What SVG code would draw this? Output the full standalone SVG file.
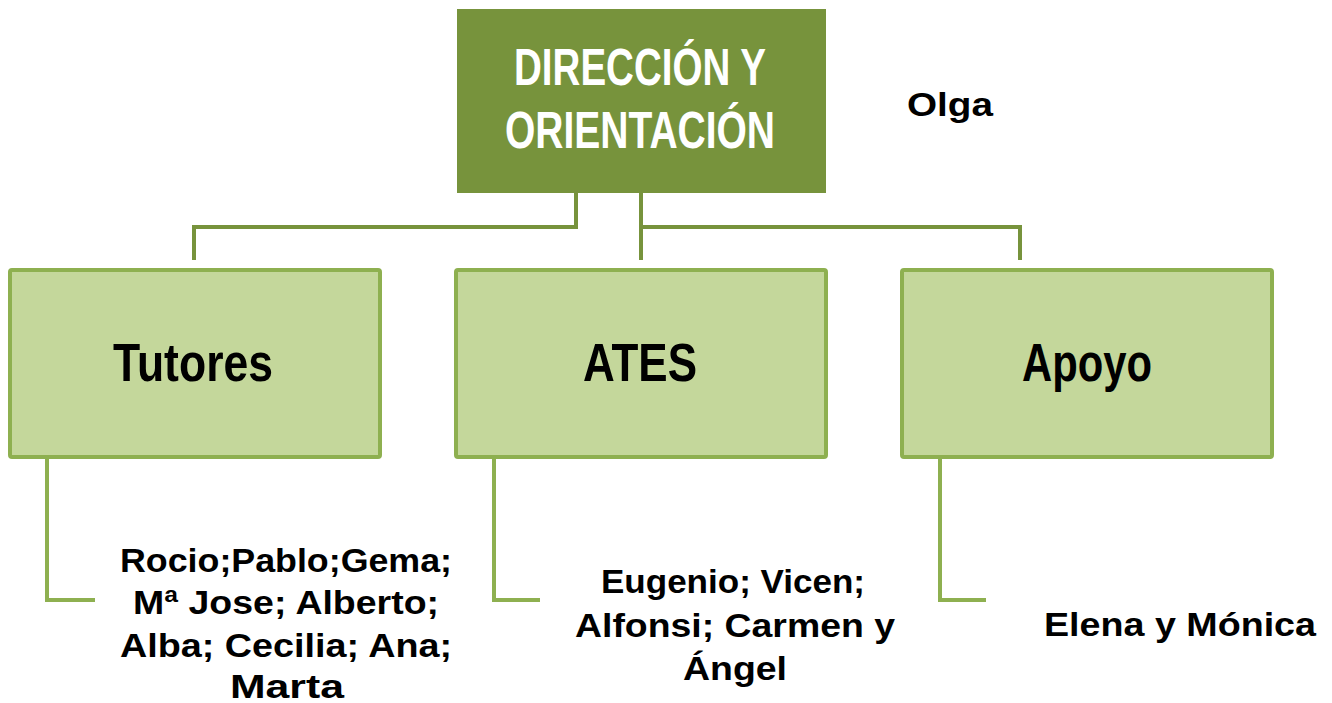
<svg xmlns="http://www.w3.org/2000/svg" width="1332" height="703" viewBox="0 0 1332 703">
<style>
.top{fill:#77933c}
.box{fill:#c4d79b;stroke:#8eb050;stroke-width:4}
.conn{fill:none;stroke:#77933c;stroke-width:4}
.sub{fill:none;stroke:#8eb050;stroke-width:4}
.t{font-family:"Liberation Sans",Arial,sans-serif;font-weight:bold;text-anchor:middle}
.head{fill:#fff;font-size:52px}
.lbl{fill:#000;font-size:54px}
.nm{fill:#000;font-size:34px}
</style>
<rect width="1332" height="703" fill="#fff"/>
<g id="connectors">
<path class="conn" d="M576 193 V227 H194 V260"/>
<path class="conn" d="M641 193 V260"/>
<path class="conn" d="M641 227 H1020 V260"/>
<path class="sub" d="M47 457 V600 H95"/>
<path class="sub" d="M494 457 V600 H540"/>
<path class="sub" d="M940 457 V600 H986"/>
</g>
<g id="direccion">
<rect class="top" x="457" y="9" width="369" height="184"/>
<text class="t head" x="640" y="85" textLength="252" lengthAdjust="spacingAndGlyphs">DIRECCIÓN Y</text>
<text class="t head" x="640" y="148" textLength="270" lengthAdjust="spacingAndGlyphs">ORIENTACIÓN</text>
</g>
<g id="olga">
<text class="t nm" x="950" y="116" textLength="86" lengthAdjust="spacingAndGlyphs">Olga</text>
</g>
<g id="tutores">
<rect class="box" x="10" y="270" width="370" height="187" rx="2"/>
<text class="t lbl" x="193" y="381" textLength="160" lengthAdjust="spacingAndGlyphs">Tutores</text>
</g>
<g id="ates">
<rect class="box" x="456" y="270" width="370" height="187" rx="2"/>
<text class="t lbl" x="640" y="381" textLength="114" lengthAdjust="spacingAndGlyphs">ATES</text>
</g>
<g id="apoyo">
<rect class="box" x="902" y="270" width="370" height="187" rx="2"/>
<text class="t lbl" x="1087" y="381" textLength="130" lengthAdjust="spacingAndGlyphs">Apoyo</text>
</g>
<g id="tutores-list">
<text class="t nm" x="286" y="572" textLength="332" lengthAdjust="spacingAndGlyphs">Rocio;Pablo;Gema;</text>
<text class="t nm" x="286" y="614" textLength="306" lengthAdjust="spacingAndGlyphs">Mª Jose; Alberto;</text>
<text class="t nm" x="286" y="657" textLength="332" lengthAdjust="spacingAndGlyphs">Alba; Cecilia; Ana;</text>
<text class="t nm" x="287" y="698" textLength="114" lengthAdjust="spacingAndGlyphs">Marta</text>
</g>
<g id="ates-list">
<text class="t nm" x="733" y="593" textLength="264" lengthAdjust="spacingAndGlyphs">Eugenio; Vicen;</text>
<text class="t nm" x="735" y="637" textLength="320" lengthAdjust="spacingAndGlyphs">Alfonsi; Carmen y</text>
<text class="t nm" x="735" y="680" textLength="104" lengthAdjust="spacingAndGlyphs">Ángel</text>
</g>
<g id="apoyo-list">
<text class="t nm" x="1180" y="636" textLength="272" lengthAdjust="spacingAndGlyphs">Elena y Mónica</text>
</g>
</svg>
